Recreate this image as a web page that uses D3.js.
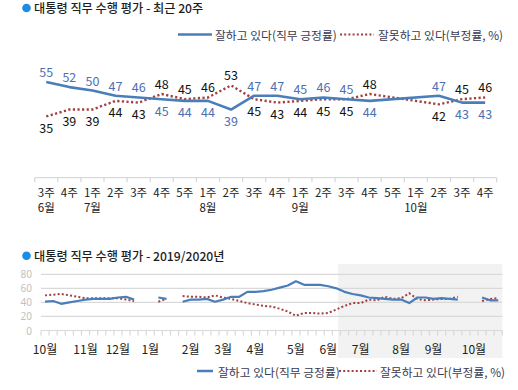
<!DOCTYPE html>
<html><head><meta charset="utf-8">
<script src="https://cdn.jsdelivr.net/npm/d3@7"></script>
<style>
html,body{margin:0;padding:0;background:#fff;}
svg{display:block;font-family:"Noto Sans CJK KR","Malgun Gothic",sans-serif;}
</style></head>
<body>
<svg id="chart" width="518" height="390"></svg>
<script>
// ---------- DATA ----------
const topWeeks = ["3주","4주","1주","2주","3주","4주","5주","1주","2주","3주","4주","1주","2주","3주","4주","5주","1주","2주","3주","4주"];
const topMonths = ["6월","","7월","","","","","8월","","","","9월","","","","","10월","","",""];
const topApprove = [55,52,50,47,46,45,44,44,39,47,47,45,46,45,44,null,null,47,43,43];
const topDisapprove = [35,39,39,44,43,48,45,46,53,45,43,44,45,45,48,null,null,42,45,46];

const bottomMonths = ["10월","11월","12월","1월","2월","3월","4월","5월","6월","7월","8월","9월","10월"];
const bottomMonthWeeks = [5,4,4,5,4,4,5,4,4,5,4,5,4];
const bottomApprove = [41,42,38,40,42,44,45,45,45,47,48,44,null,null,47,45,null,41,44,44,45,41,44,48,48,55,55,56,58,61,64,70,65,65,65,63,60,
  55,52,50,47,46,45,44,44,39,47,47,45,46,45,44,null,null,47,43,43];
const bottomDisapprove = [50,51,52,50,48,46,46,46,46,46,44,42,null,null,41,45,null,49,48,48,47,50,47,45,42,39,37,35,34,31,27,21,25,25,24,25,30,
  35,39,39,44,43,48,45,46,53,45,43,44,45,45,48,null,null,42,45,46];
const bottomYTicks = [0,20,40,60,80];

const title1 = "대통령 직무 수행 평가 - 최근 20주";
const title2 = "대통령 직무 수행 평가 - 2019/2020년";
const legendApprove = "잘하고 있다(직무 긍정률)";
const legendDisapprove = "잘못하고 있다(부정률, %)";

// ---------- STYLE ----------
const BLUE = "#4a7ebb", RED = "#a0413f", BLUE_TXT = "#4d6fb3", DARK = "#222", GRID = "#d9d9d9";
const svg = d3.select("#chart");
svg.append("rect").attr("width",518).attr("height",390).attr("fill","#fff");

function titleRow(y, text){
  svg.append("circle").attr("cx",26.5).attr("cy",y).attr("r",4.3).attr("fill","#1a8ee6");
  svg.append("text").attr("x",34).attr("y",y).attr("dominant-baseline","central")
    .attr("font-size",12.2).attr("font-weight",500).attr("fill","#1e1e1e").text(text);
}
function legendRow(y, bx0, bx1, tx1, rx0, rx1, tx2){
  svg.append("line").attr("x1",bx0).attr("x2",bx1).attr("y1",y).attr("y2",y)
    .attr("stroke",BLUE).attr("stroke-width",2.5);
  svg.append("text").attr("x",tx1).attr("y",y).attr("dominant-baseline","central")
    .attr("font-size",11.8).attr("fill","#3a3a50").text(legendApprove);
  svg.append("line").attr("x1",rx0).attr("x2",rx1).attr("y1",y).attr("y2",y)
    .attr("stroke",RED).attr("stroke-width",2.2).attr("stroke-dasharray","2,2.2");
  svg.append("text").attr("x",tx2).attr("y",y).attr("dominant-baseline","central")
    .attr("font-size",11.8).attr("fill","#3a3a50").text(legendDisapprove);
}

// ---------- TOP CHART ----------
titleRow(8, title1);
legendRow(34.5, 178, 212, 215, 340, 374, 378);

const tx = d3.scaleBand().domain(d3.range(topWeeks.length)).range([34.7, 496.7]);
const ty = d3.scaleLinear().domain([0,100]).range([176.8, 4.3]);
const tcx = i => tx(i) + tx.bandwidth()/2;

const tAxisY = 177.7;
const gTop = svg.append("g");
gTop.append("line").attr("x1",tx.range()[0]).attr("x2",tx.range()[1]).attr("y1",tAxisY).attr("y2",tAxisY)
  .attr("stroke",GRID).attr("stroke-width",1.3);
gTop.selectAll("line.tk").data(d3.range(topWeeks.length+1)).join("line").attr("class","tk")
  .attr("x1",i=>tx.range()[0]+i*tx.step()).attr("x2",i=>tx.range()[0]+i*tx.step())
  .attr("y1",tAxisY).attr("y2",tAxisY+4.5).attr("stroke",GRID).attr("stroke-width",1.3);
gTop.selectAll("text.wk").data(topWeeks).join("text").attr("class","wk")
  .attr("x",(d,i)=>tcx(i)).attr("y",191.5).attr("text-anchor","middle").attr("dominant-baseline","central")
  .attr("font-size",11.5).attr("fill",DARK).text(d=>d);
gTop.selectAll("text.mo").data(topMonths).join("text").attr("class","mo")
  .attr("x",(d,i)=>tcx(i)).attr("y",206.5).attr("text-anchor","middle").attr("dominant-baseline","central")
  .attr("font-size",11.5).attr("fill",DARK).text(d=>d);

const topLine = d3.line().x(d=>tcx(d.i)).y(d=>ty(d.v));
const toPts = arr => arr.map((v,i)=>({i,v})).filter(d=>d.v!=null);
gTop.append("path").attr("d",topLine(toPts(topDisapprove))).attr("fill","none")
  .attr("stroke",RED).attr("stroke-width",2.4).attr("stroke-dasharray","2.2,2.4");
gTop.append("path").attr("d",topLine(toPts(topApprove))).attr("fill","none")
  .attr("stroke",BLUE).attr("stroke-width",2.6).attr("stroke-linejoin","round");

topApprove.forEach((a,i)=>{
  const r = topDisapprove[i];
  if(a==null||r==null) return;
  const aUp = a >= r;
  gTop.append("text").attr("x",tcx(i)).attr("y",ty(a)+(aUp?-10.5:11)).attr("text-anchor","middle")
    .attr("dominant-baseline","central").attr("font-size",12.5).attr("fill",BLUE_TXT).text(a);
  gTop.append("text").attr("x",tcx(i)).attr("y",ty(r)+(aUp?11:-10.5)).attr("text-anchor","middle")
    .attr("dominant-baseline","central").attr("font-size",12.5).attr("fill","#111").text(r);
});

// ---------- BOTTOM CHART ----------
titleRow(255.7, title2);
const nW = bottomApprove.length;
const bx = d3.scaleBand().domain(d3.range(nW)).range([41, 502.3]);
const by = d3.scaleLinear().domain([0,80]).range([330.5, 274.3]);
const bcx = i => bx(i) + bx.bandwidth()/2;

const gB = svg.append("g");
// highlight of the most recent 20 weeks
gB.append("rect").attr("x",bx(nW-topWeeks.length)-2.5).attr("y",264)
  .attr("width",bx.range()[1]-bx(nW-topWeeks.length)+2.5).attr("height",94).attr("fill","#f2f2f2");
gB.selectAll("line.gr").data(bottomYTicks).join("line").attr("class","gr")
  .attr("x1",bx.range()[0]).attr("x2",bx.range()[1]).attr("y1",d=>by(d)).attr("y2",d=>by(d))
  .attr("stroke",GRID).attr("stroke-width",1.2);
gB.selectAll("text.yl").data(bottomYTicks).join("text").attr("class","yl")
  .attr("x",32).attr("y",d=>by(d)).attr("text-anchor","end").attr("dominant-baseline","central")
  .attr("font-family","'Noto Sans',sans-serif").attr("font-size",10).attr("fill","#bfbfbf").text(d=>d);
gB.selectAll("line.tk").data(d3.range(nW+1)).join("line").attr("class","tk")
  .attr("x1",i=>bx.range()[0]+i*bx.step()).attr("x2",i=>bx.range()[0]+i*bx.step())
  .attr("y1",by(0)).attr("y2",by(0)+5).attr("stroke",GRID).attr("stroke-width",1.2);
const monthStart = bottomMonthWeeks.map((w,k)=>d3.sum(bottomMonthWeeks.slice(0,k)));
gB.selectAll("text.mo").data(bottomMonths).join("text").attr("class","mo")
  .attr("x",(d,k)=>bcx(monthStart[k])).attr("y",348).attr("text-anchor","middle").attr("dominant-baseline","central")
  .attr("font-size",12).attr("fill",DARK).text(d=>d);

const bLine = d3.line().defined(d=>d.v!=null).x(d=>bcx(d.i)).y(d=>by(d.v));
const toAll = arr => arr.map((v,i)=>({i,v}));
gB.append("path").attr("d",bLine(toAll(bottomDisapprove))).attr("fill","none")
  .attr("stroke",RED).attr("stroke-width",2).attr("stroke-dasharray","2,2.2");
gB.append("path").attr("d",bLine(toAll(bottomApprove))).attr("fill","none")
  .attr("stroke",BLUE).attr("stroke-width",2.2).attr("stroke-linejoin","round");

legendRow(371, 197, 213, 218, 339, 377, 380);
</script>
</body></html>
